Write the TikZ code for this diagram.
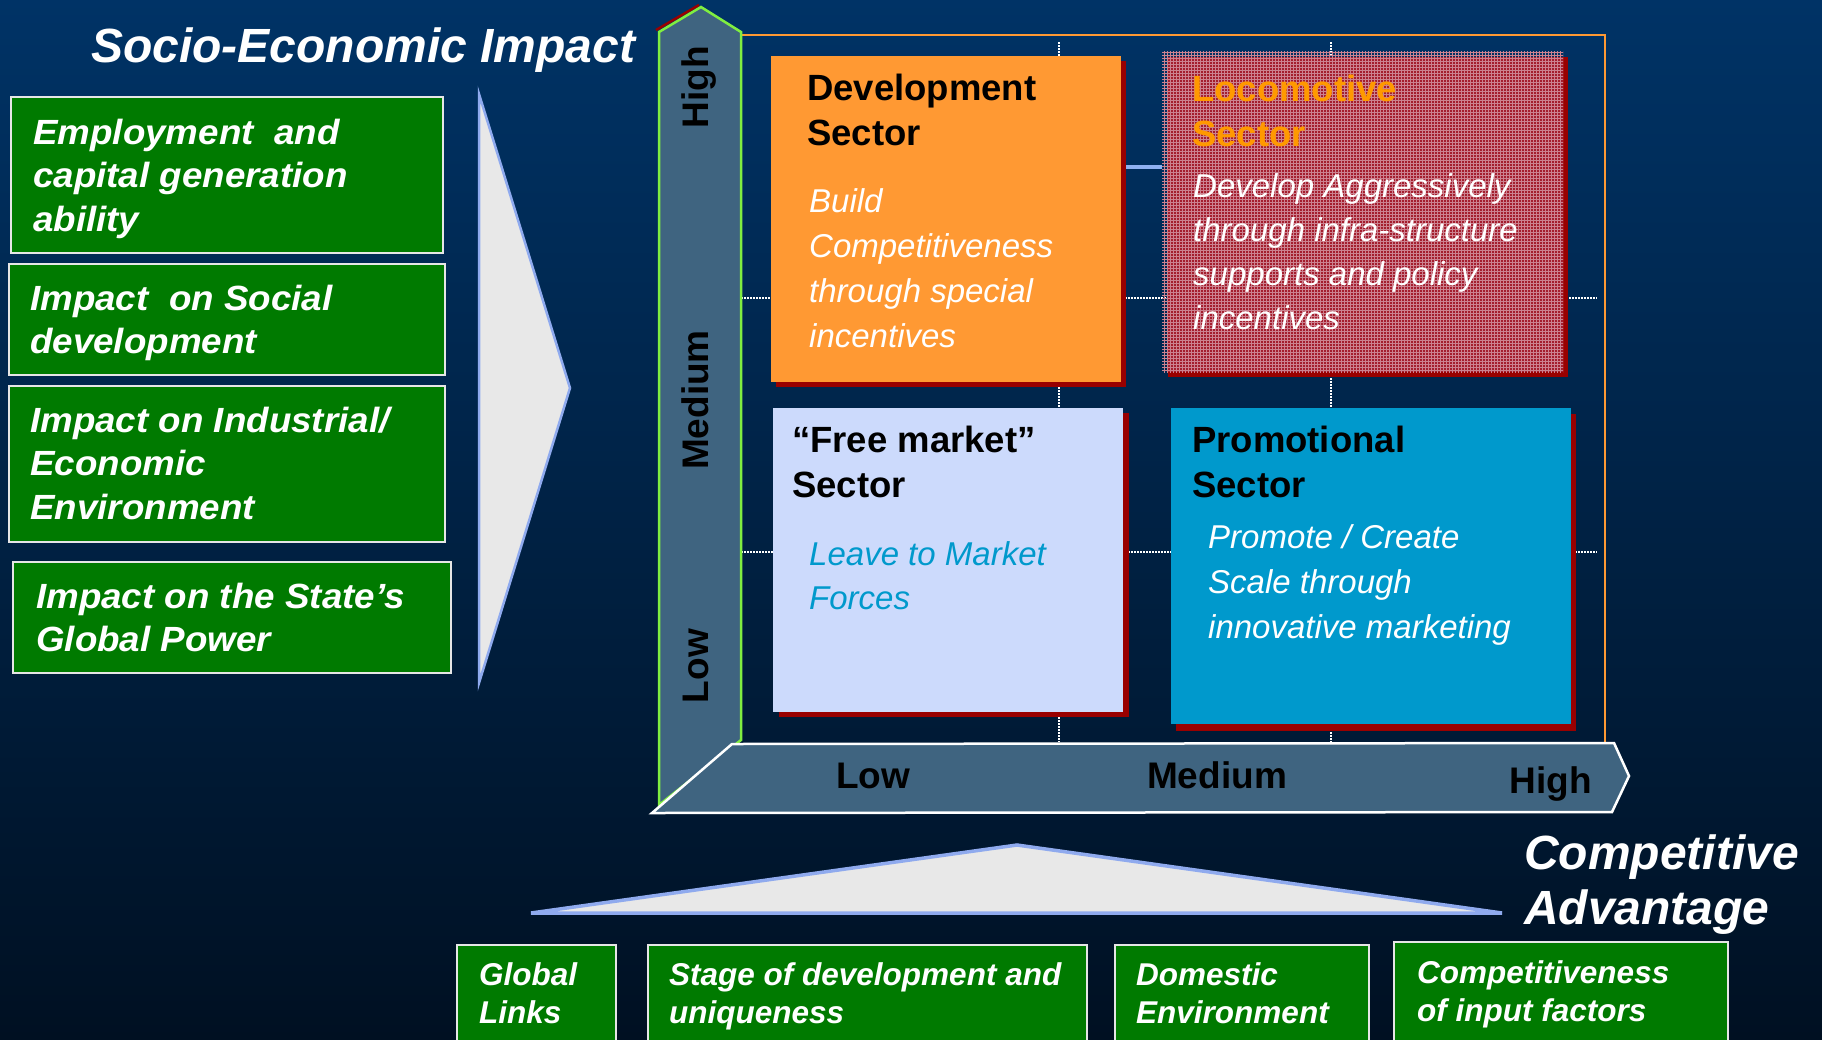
\documentclass[tikz,border=0pt]{standalone}
\usepackage{fontspec}
\setmainfont{Liberation Sans}
\newfontfamily\widesans[FakeStretch=1.05]{Liberation Sans}
\usetikzlibrary{patterns}
\definecolor{bgtop}{HTML}{003366}
\definecolor{bgbot}{HTML}{001022}
\definecolor{boxgreen}{HTML}{007A00}
\definecolor{boxedge}{HTML}{E6E6E6}
\definecolor{trifill}{HTML}{E8E8E8}
\definecolor{triedge}{HTML}{8FAAEE}
\definecolor{axisfill}{HTML}{3F6480}
\definecolor{axisgreen}{HTML}{80EE40}
\definecolor{frameor}{HTML}{FF9933}
\definecolor{devor}{HTML}{FF9933}
\definecolor{shadowred}{HTML}{990000}
\definecolor{locored}{HTML}{A41E2E}
\definecolor{locogrid}{HTML}{CC8290}
\definecolor{locotitle}{HTML}{FF9900}
\definecolor{freefill}{HTML}{CCDAFC}
\definecolor{freetext}{HTML}{0099CC}
\definecolor{promofill}{HTML}{0099CC}
\definecolor{connblue}{HTML}{8FB0F0}

\newcommand{\sectitle}[1]{\parbox[t]{400pt}{\raggedright\fontsize{36.5}{45}\selectfont\bfseries #1}}
\newcommand{\secdesc}[2][45]{\parbox[t]{400pt}{\raggedright\fontsize{33}{#1}\selectfont\itshape #2}}
\newcommand{\leftlabel}[1]{\parbox[t]{420pt}{\raggedright\widesans\fontsize{35}{43.7}\selectfont\bfseries\itshape #1}}
\newcommand{\botlabel}[1]{\parbox[t]{420pt}{\raggedright\fontsize{31.5}{38}\selectfont\bfseries\itshape #1}}

\begin{document}
\begin{tikzpicture}[x=1pt,y=-1pt,
  gbox/.style={draw=boxedge, line width=2pt, fill=boxgreen, inner sep=0pt, anchor=north west},
  sbox/.style={inner sep=0pt, anchor=north west},
  txt/.style={inner sep=0pt, anchor=base west},
  axlbl/.style={inner sep=0pt, anchor=base, font=\fontsize{37}{40}\selectfont\bfseries, text=black},
  gridline/.style={draw=white, line width=1.3pt, dash pattern=on 1.5pt off 1.5pt},
  conn/.style={draw=connblue, line width=4pt}]
\useasboundingbox (0,0) rectangle (1822,1039);
\clip (0,0) rectangle (1822,1039);
\shade[top color=bgtop, bottom color=bgbot] (0,0) rectangle (1822,1039);

% ---- left: socio-economic impact
\node[txt, text=white, font=\fontsize{48}{50}\selectfont\bfseries\itshape] (title) at (91,62.5) {Socio-Economic Impact};

\node[gbox, minimum width=432, minimum height=156] (e1) at (10,96) {};
\node[gbox, minimum width=436, minimum height=111] (e2) at (7.5,263) {};
\node[gbox, minimum width=436, minimum height=156] (e3) at (7.5,385) {};
\node[gbox, minimum width=438, minimum height=111] (e4) at (12,561) {};

\node[txt, text=white] (t1) at (33,144) {\leftlabel{Employment~ and\\capital generation\\ability}};
\node[txt, text=white] (t2) at (30,310) {\leftlabel{Impact~ on Social\\development}};
\node[txt, text=white] (t3) at (30,432) {\leftlabel{Impact on Industrial/\\Economic\\Environment}};
\node[txt, text=white] (t4) at (36,608) {\leftlabel{Impact on the State’s\\Global Power}};

\draw[draw=triedge, fill=trifill, line width=2.5pt, line join=miter] (479,94) -- (570,388) -- (479,683) -- cycle;

% ---- grid
\draw[gridline] (1059,42) -- (1059,742);
\draw[gridline] (1331,42) -- (1331,742);
\draw[gridline] (741,298) -- (1597,298);
\draw[gridline] (741,552) -- (1597,552);

\draw[draw=frameor, line width=2.5pt] (741,35) -- (1605,35) -- (1605,742);

% ---- axes
\draw[draw=shadowred, line width=2.5pt] (656,30) -- (699,5);
\draw[draw=axisgreen, fill=axisfill, line width=2.5pt, line join=miter] (659,805) -- (659,32) -- (701,7) -- (741,32) -- (741,740) -- cycle;
\draw[draw=white, fill=axisfill, line width=2.5pt, line join=miter] (652,813) -- (732,744) -- (1614,743) -- (1629,776) -- (1612,812) -- cycle;

\node[axlbl, rotate=90] (vhigh) at (708,87) {High};
\node[axlbl, rotate=90] (vmed) at (708,400) {Medium};
\node[axlbl, rotate=90] (vlow) at (708,666) {Low};
\node[axlbl] (hlow) at (873,788) {Low};
\node[axlbl] (hmed) at (1217,788) {Medium};
\node[axlbl] (hhigh) at (1551,793) {High};

% ---- sector boxes
\fill[shadowred] (776,61) rectangle (1126,387);
\node[sbox, fill=devor, minimum width=350, minimum height=326] (dev) at (771,56) {};

\fill[shadowred] (1168,57) rectangle (1568,377);
\fill[locored] (1168,57) rectangle (1563,372);
\node[sbox, minimum width=401, minimum height=321, pattern=grid, pattern color=locogrid] (loco) at (1162,51) {};

\fill[shadowred] (779,413) rectangle (1129,717);
\node[sbox, fill=freefill, minimum width=350, minimum height=304] (free) at (773,408) {};

\fill[shadowred] (1176,414) rectangle (1576,731);
\node[sbox, fill=promofill, minimum width=400, minimum height=316] (promo) at (1171,408) {};

\coordinate (cy) at (0,167);
\draw[conn, shorten <=5pt] (dev.east |- cy) -- (loco.west |- cy);

\node[txt, text=black] (devt) at (807,100) {\sectitle{Development\\Sector}};
\node[txt, text=white] (devd) at (809,212) {\secdesc{Build\\Competitiveness\\through special\\incentives}};

\node[txt, text=locotitle] (locot) at (1192,101) {\sectitle{Locomotive\\Sector}};
\node[txt, text=white] (locod) at (1193,197) {\secdesc[44.3]{Develop Aggressively\\through infra-structure\\supports and policy\\incentives}};

\node[txt, text=black] (freet) at (792,452) {\sectitle{“Free market”\\Sector}};
\node[txt, text=freetext] (freed) at (809,565) {\secdesc[44]{Leave to Market\\Forces}};

\node[txt, text=black] (promot) at (1192,452) {\sectitle{Promotional\\Sector}};
\node[txt, text=white] (promod) at (1208,548) {\secdesc{Promote / Create\\Scale through\\innovative marketing}};

% ---- bottom: competitive advantage
\draw[draw=triedge, fill=trifill, line width=3.5pt, line join=miter] (531,913) -- (1017,845) -- (1502,913) -- cycle;

\node[txt, text=white] (ca) at (1524,869) {\parbox[t]{300pt}{\fontsize{48}{55}\selectfont\bfseries\itshape Competitive\\Advantage}};

\node[gbox, minimum width=159, minimum height=130] (b1) at (456,944) {};
\node[gbox, minimum width=439, minimum height=130] (b2) at (647,944) {};
\node[gbox, minimum width=254, minimum height=130] (b3) at (1114,944) {};
\node[gbox, minimum width=334, minimum height=133] (b4) at (1393,941) {};

\node[txt, text=white] (b1t) at (479,985) {\botlabel{Global\\Links}};
\node[txt, text=white] (b2t) at (669,985) {\botlabel{Stage of development and\\uniqueness}};
\node[txt, text=white] (b3t) at (1136,985) {\botlabel{Domestic\\Environment}};
\node[txt, text=white] (b4t) at (1417,983) {\botlabel{Competitiveness\\of input factors}};
\end{tikzpicture}
\end{document}
